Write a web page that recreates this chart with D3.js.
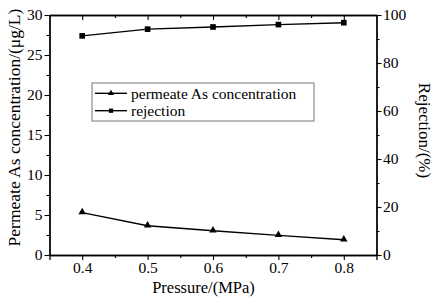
<!DOCTYPE html>
<html>
<head>
<meta charset="utf-8">
<script src="https://cdn.jsdelivr.net/npm/d3@7"></script>
<style>
  body { margin: 0; background: #fff; }
  text { font-family: "Liberation Serif", "Times New Roman", serif; fill: #000; }
</style>
</head>
<body>
<script>
var w = 434, h = 303;
var margin = {left: 49.5, right: 57.5, top: 15, bottom: 48};

var pressure = [0.4, 0.5, 0.6, 0.7, 0.8];
var concentration = [5.3, 3.65, 3.03, 2.45, 1.9];
var rejection = [91.3, 94.1, 95.0, 96.0, 96.8];
var xTicks = [0.4, 0.5, 0.6, 0.7, 0.8];
var leftTicks = [0, 5, 10, 15, 20, 25, 30];
var rightTicks = [0, 20, 40, 60, 80, 100];

var svg = d3.select("body").append("svg")
    .attr("width", w)
    .attr("height", h);

var x = d3.scaleLinear().domain([0.35, 0.85]).range([margin.left, w - margin.right]);
var yL = d3.scaleLinear().domain([0, 30]).range([h - margin.bottom, margin.top]);
var yR = d3.scaleLinear().domain([0, 100]).range([h - margin.bottom, margin.top]);

// minor ticks
var xMinor = d3.range(0.45, 0.85, 0.1);
var lMinor = d3.range(2.5, 30, 5);
var rMinor = d3.range(10, 100, 20);

function styleAxis(g) {
  g.selectAll("path").attr("stroke", "#000").attr("stroke-width", 1.3);
  g.selectAll("line").attr("stroke", "#000").attr("stroke-width", 1.1);
  g.selectAll("text").style("font-size", "15.5px").style("font-family", "Liberation Serif, serif");
}

// bottom axis
svg.append("g")
    .attr("transform", "translate(0," + (h - margin.bottom) + ")")
    .call(d3.axisBottom(x).tickValues(xTicks).tickFormat(d3.format(".1f")).tickSize(5).tickPadding(2))
    .call(styleAxis);
svg.append("g")
    .attr("transform", "translate(0," + (h - margin.bottom) + ")")
    .call(d3.axisBottom(x).tickValues(xMinor).tickFormat("").tickSize(3).tickSizeOuter(0))
    .call(styleAxis);

// top axis (ticks pointing inward)
svg.append("g")
    .attr("transform", "translate(0," + margin.top + ")")
    .call(d3.axisBottom(x).tickValues(xTicks).tickFormat("").tickSize(5).tickSizeOuter(0))
    .call(styleAxis);
svg.append("g")
    .attr("transform", "translate(0," + margin.top + ")")
    .call(d3.axisBottom(x).tickValues(xMinor).tickFormat("").tickSize(3).tickSizeOuter(0))
    .call(styleAxis);

// left axis
svg.append("g")
    .attr("transform", "translate(" + margin.left + ",0)")
    .call(d3.axisLeft(yL).tickValues(leftTicks).tickSize(5).tickPadding(2).tickSizeOuter(0))
    .call(styleAxis);
svg.append("g")
    .attr("transform", "translate(" + margin.left + ",0)")
    .call(d3.axisLeft(yL).tickValues(lMinor).tickFormat("").tickSize(3).tickSizeOuter(0))
    .call(styleAxis);

// right axis
svg.append("g")
    .attr("transform", "translate(" + (w - margin.right) + ",0)")
    .call(d3.axisRight(yR).tickValues(rightTicks).tickSize(5).tickPadding(1.5).tickSizeOuter(0))
    .call(styleAxis);
svg.append("g")
    .attr("transform", "translate(" + (w - margin.right) + ",0)")
    .call(d3.axisRight(yR).tickValues(rMinor).tickFormat("").tickSize(3).tickSizeOuter(0))
    .call(styleAxis);

// series lines
var lineC = d3.line().x(function(d, i) { return x(pressure[i]); }).y(function(d) { return yL(d); });
var lineR = d3.line().x(function(d, i) { return x(pressure[i]); }).y(function(d) { return yR(d); });

svg.append("path").datum(concentration).attr("d", lineC)
    .attr("fill", "none").attr("stroke", "#000").attr("stroke-width", 1.4);
svg.append("path").datum(rejection).attr("d", lineR)
    .attr("fill", "none").attr("stroke", "#000").attr("stroke-width", 1.4);

var tri = d3.symbol().type(d3.symbolTriangle).size(24);
var sq = d3.symbol().type(d3.symbolSquare).size(32);

svg.selectAll(".tri").data(concentration).enter().append("path")
    .attr("d", tri)
    .attr("transform", function(d, i) { return "translate(" + x(pressure[i]) + "," + (yL(d) - 0.5) + ")"; })
    .attr("fill", "#000");
svg.selectAll(".sq").data(rejection).enter().append("path")
    .attr("d", sq)
    .attr("transform", function(d, i) { return "translate(" + x(pressure[i]) + "," + yR(d) + ")"; })
    .attr("fill", "#000");

// legend
var lg = svg.append("g");
lg.append("rect").attr("x", 92).attr("y", 83).attr("width", 222).attr("height", 38)
    .attr("fill", "#fff").attr("stroke", "#777").attr("stroke-width", 1);
var legendItems = [["permeate As concentration", d3.symbol().type(d3.symbolTriangle).size(16)],
                   ["rejection", d3.symbol().type(d3.symbolSquare).size(18)]];
legendItems.forEach(function(it, i) {
  var cy = 93.3 + i * 17.4;
  lg.append("line").attr("x1", 95).attr("x2", 127).attr("y1", cy).attr("y2", cy)
      .attr("stroke", "#000").attr("stroke-width", 1.4);
  lg.append("path").attr("d", it[1]).attr("transform", "translate(111," + cy + ")").attr("fill", "#000");
  lg.append("text").attr("x", 131).attr("y", cy + 5.2).style("font-size", "15.5px").text(it[0]);
});

// axis titles
svg.append("text")
    .attr("text-anchor", "middle")
    .attr("x", 203.5)
    .attr("y", 293)
    .style("font-size", "16.5px")
    .text("Pressure/(MPa)");

svg.append("text")
    .attr("text-anchor", "middle")
    .attr("transform", "translate(19.5," + 127.5 + ") rotate(-90)")
    .style("font-size", "17.5px")
    .text("Permeate As concentration/(μg/L)");

svg.append("text")
    .attr("text-anchor", "middle")
    .attr("transform", "translate(419," + 130.5 + ") rotate(90)")
    .style("font-size", "17px")
    .text("Rejection/(%)");
</script>
</body>
</html>
